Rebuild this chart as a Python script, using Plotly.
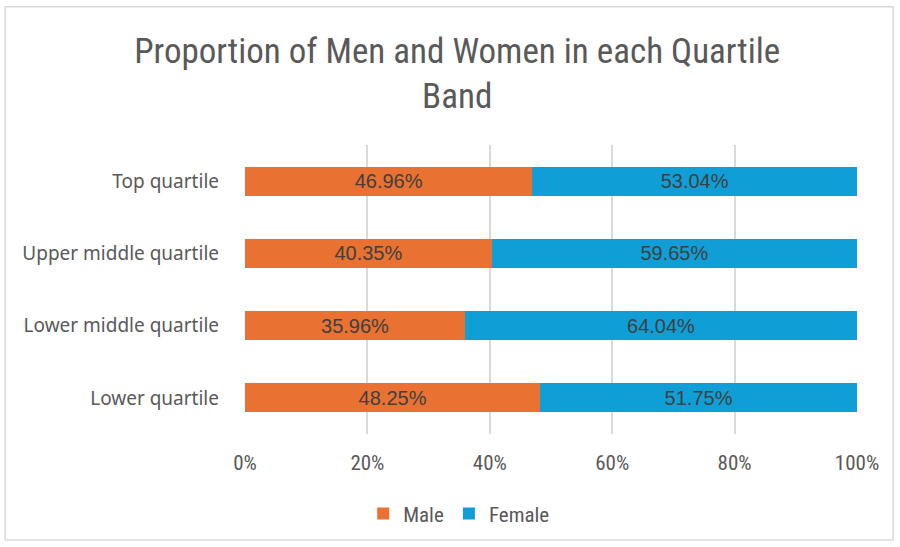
import plotly.graph_objects as go

categories = ["Lower quartile", "Lower middle quartile", "Upper middle quartile", "Top quartile"]
male = [48.25, 35.96, 40.35, 46.96]
female = [51.75, 64.04, 59.65, 53.04]
tick_vals = [0, 20, 40, 60, 80, 100]
tick_text = ["0%", "20%", "40%", "60%", "80%", "100%"]

label_font = dict(family="Liberation Sans, Arial", size=20, color="#404040")

fig = go.Figure()
fig.add_trace(go.Bar(
    y=categories, x=male, orientation="h", name="Male",
    marker=dict(color="#E97132", line=dict(width=0)),
    text=[f"{v:.2f}%" for v in male], textposition="inside", insidetextanchor="middle",
    textfont=label_font, cliponaxis=False,
))
fig.add_trace(go.Bar(
    y=categories, x=female, orientation="h", name="Female",
    marker=dict(color="#0F9ED5", line=dict(width=0)),
    text=[f"{v:.2f}%" for v in female], textposition="inside", insidetextanchor="middle",
    textfont=label_font, cliponaxis=False,
))

fig.update_layout(
    barmode="stack",
    bargap=0.6,
    width=900, height=547,
    margin=dict(l=245, r=43, t=145, b=113, autoexpand=False),
    paper_bgcolor="white", plot_bgcolor="white",
    title=dict(
        text="Proportion of Men and Women in each Quartile<br>Band",
        x=0.508, xanchor="center", y=0.885, yanchor="middle",
        font=dict(family="Roboto Condensed, Liberation Sans Narrow, Arial Narrow, sans-serif", size=35, color="#595959"),
    ),
    xaxis=dict(
        range=[0, 100], tickvals=tick_vals, ticktext=tick_text,
        showgrid=True, gridcolor="#D9D9D9", gridwidth=1.5, zeroline=False,
        tickfont=dict(family="Roboto Condensed, Liberation Sans Narrow, sans-serif", size=21, color="#595959"),
        ticks="", ticklabelstandoff=14, showline=False, automargin=False,
    ),
    yaxis=dict(
        showgrid=False, zeroline=False, automargin=False,
        tickfont=dict(family="Noto Sans, sans-serif", size=19, color="#595959"),
        ticks="", ticklabelstandoff=25,
    ),
    legend=dict(
        orientation="h", x=0.35, xanchor="center", y=-0.205, yanchor="top",
        font=dict(family="Roboto Condensed, Liberation Sans Narrow, sans-serif", size=21, color="#595959"),
        traceorder="normal", bgcolor="rgba(0,0,0,0)",
    ),
    uniformtext=dict(mode="show", minsize=10),
)
fig.add_shape(type="rect", xref="paper", yref="paper",
              x0=-0.392, x1=1.059, y0=-0.367, y1=1.478,
              line=dict(color="#D9D9D9", width=1.5), fillcolor="rgba(0,0,0,0)")

fig.write_html("out.html", config={"displayModeBar": False},
               post_script="document.body.style.margin='0';")
